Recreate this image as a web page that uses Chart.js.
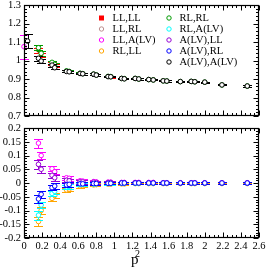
<!DOCTYPE html>
<html><head><meta charset="utf-8">
<script src="https://cdn.jsdelivr.net/npm/chart.js@4"></script>
<style>
html,body{margin:0;padding:0;background:#fff;}
#wrap{position:relative;width:266px;height:272px;overflow:hidden;}
canvas{position:absolute;left:0;top:0;}
</style></head><body>
<div id="wrap"><canvas id="cTop" width="266" height="272"></canvas><canvas id="cBot" width="266" height="272"></canvas></div>
<script>
const seriesNames = ['LL,LL','LL,RL','LL,A(LV)','RL,LL','RL,RL','RL,A(LV)','A(LV),LL','A(LV),RL','A(LV),A(LV)'];
const seriesColors = ['#ff0000','#bc8f8f','#ff00ff','#ffa500','#009a00','#00ffff','#9400d3','#0000ff','#000000'];

// momentum values p^2
const p2 = [0.16,0.19,0.31,0.34,0.47,0.50,0.62,0.65,0.77,0.80,0.93,0.96,1.08,1.11,1.23,1.27,1.38,1.43,1.54,1.58,1.73,1.85,1.89,2.00,2.19,2.47];
const p2AA = [0.04,0.16,0.19,0.31,0.34,0.47,0.50,0.62,0.65,0.77,0.80,0.93,0.96,1.08,1.11,1.23,1.27,1.38,1.43,1.54,1.58,1.73,1.85,1.89,2.00,2.19,2.47];
const p2Zero = [0.0];

// upper panel
const topLLLL = [1.055,1.030,0.985,0.972,0.942,0.940,0.930,0.928,0.926,0.921,0.913,0.912,0.903,0.901,0.903,0.900,0.897,0.895,0.890,0.889,0.886,0.887,0.885,0.883,0.868,0.862];
const topLLLLerr = [0.014,0.012,0.009,0.009,0.006,0.006,0.005,0.005,0.004,0.004,0.004,0.004,0.003,0.003,0.003,0.003,0.003,0.003,0.003,0.003,0.003,0.003,0.003,0.003,0.003,0.003];
const topRLRL = [1.069,1.039,0.990,0.979,0.944,0.941,0.931,0.929,0.926,0.922,0.914,0.913,0.903,0.902,0.903,0.900,0.897,0.895,0.890,0.889,0.886,0.887,0.885,0.883,0.868,0.862];
const topRLRLerr = [0.014,0.012,0.009,0.009,0.006,0.006,0.005,0.005,0.004,0.004,0.004,0.004,0.003,0.003,0.003,0.003,0.003,0.003,0.003,0.003,0.003,0.003,0.003,0.003,0.003,0.003];
const topAA = [1.105,1.012,0.997,0.975,0.961,0.941,0.939,0.930,0.928,0.926,0.921,0.913,0.912,0.903,0.901,0.903,0.900,0.897,0.895,0.890,0.889,0.886,0.887,0.885,0.883,0.868,0.862];
const topAAerr = [0.040,0.012,0.010,0.008,0.008,0.005,0.005,0.004,0.004,0.004,0.004,0.003,0.003,0.003,0.003,0.003,0.003,0.003,0.003,0.003,0.003,0.003,0.003,0.003,0.003,0.003,0.003];
const topLLA = [1.075];
const topLLAerr = [0.065];

// lower panel
const botLLA  = [0.145,0.100,0.052,0.041,0.019,0.017,0.008,0.007,0.005,0.004,0.003,0.003,0.002,0.002,0.002,0.002,0.002,0.002,0.001,0.001,0.001,0.001,0.001,0.001,0.001,0.001];
const botALL  = [0.068,0.050,0.028,0.019,0.010,0.008,0.004,0.004,0.003,0.002,0.002,0.002,0.001,0.001,0.001,0.001,0.001,0.001,0.000,0.000,0.000,0.000,0.000,0.000,0.000,0.000];
const botARL  = [-0.058,-0.041,-0.017,-0.011,-0.007,-0.005,-0.003,-0.003,-0.002,-0.002,-0.001,-0.001,0.000,0.000,0.000,0.000,0.000,0.000,0.000,0.000,0.000,0.000,0.000,0.000,0.000,0.000];
const botRLA  = [-0.117,-0.080,-0.038,-0.030,-0.014,-0.012,-0.006,-0.005,-0.004,-0.003,-0.002,-0.002,-0.001,-0.001,-0.001,-0.001,-0.001,-0.001,-0.001,-0.001,-0.001,-0.001,-0.001,-0.001,-0.001,-0.001];
const botRLLL = [-0.140,-0.100,-0.056,-0.045,-0.025,-0.022,-0.011,-0.010,-0.007,-0.006,-0.004,-0.004,-0.003,-0.003,-0.002,-0.002,-0.002,-0.002,-0.002,-0.002,-0.002,-0.002,-0.002,-0.002,-0.002,-0.002];
const botErr  = [0.016,0.012,0.010,0.010,0.008,0.008,0.006,0.006,0.005,0.005,0.004,0.004,0.003,0.003,0.003,0.003,0.003,0.003,0.003,0.003,0.003,0.003,0.003,0.003,0.003,0.003];

// tick labels
const xTicks = [0,0.2,0.4,0.6,0.8,1,1.2,1.4,1.6,1.8,2,2.2,2.4,2.6];
const xTickLabels = ['0','0.2','0.4','0.6','0.8','1','1.2','1.4','1.6','1.8','2','2.2','2.4','2.6'];
const topYTicks = [0.7,0.8,0.9,1.0,1.1,1.2,1.3];
const topYTickLabels = ['0.7','0.8','0.9','1','1.1','1.2','1.3'];
const botYTicks = [-0.2,-0.15,-0.1,-0.05,0,0.05,0.1,0.15,0.2];
const botYTickLabels = ['-0.2','-0.15','-0.1','-0.05','0','0.05','0.1','0.15','0.2'];
const xTitle = 'p';
const xTitleSup = '2';

const FONT = '"Liberation Serif", "Times New Roman", serif';

function pts(xs, ys){ return ys.map((y,i)=>({x:xs[i], y:y})); }

function makeDatasets(panel){
  const ds = [];
  for (let i=0;i<seriesNames.length;i++){
    let data=[], err=[];
    const n = seriesNames[i];
    if (panel==='top'){
      if (n==='LL,LL'){ data=pts(p2,topLLLL); err=topLLLLerr; }
      if (n==='RL,RL'){ data=pts(p2,topRLRL); err=topRLRLerr; }
      if (n==='A(LV),A(LV)'){ data=pts(p2AA,topAA); err=topAAerr; }
      if (n==='LL,A(LV)'){ data=pts(p2Zero,topLLA); err=topLLAerr; }
    } else {
      if (n==='LL,A(LV)'){ data=pts(p2,botLLA); err=botErr; }
      if (n==='A(LV),LL'){ data=pts(p2,botALL); err=botErr; }
      if (n==='A(LV),RL'){ data=pts(p2,botARL); err=botErr; }
      if (n==='RL,A(LV)'){ data=pts(p2,botRLA); err=botErr; }
      if (n==='RL,LL'){ data=pts(p2,botRLLL); err=botErr; }
    }
    const c = seriesColors[i];
    ds.push({
      label:n, data:data, errors:err, order:seriesNames.length-i,
      showLine:false, clip:false,
      borderColor:c, backgroundColor: i===0? c : '#ffffff',
      pointStyle: i===0? 'rect':'circle',
      pointRadius: i===0? 2.1 : 2.3, pointBorderWidth:1,
      pointBackgroundColor: i===0? c : '#ffffff', pointBorderColor:c
    });
  }
  return ds;
}

const errorBars = {
  id:'errorBars',
  beforeDatasetDraw(chart, args){
    const ds = chart.data.datasets[args.index];
    if (!ds.errors || !ds.data.length) return;
    const xs = chart.scales.x, ys = chart.scales.y, ctx = chart.ctx;
    ctx.save();
    ctx.strokeStyle = ds.borderColor; ctx.lineWidth = 1;
    ds.data.forEach((p,i)=>{
      const e = ds.errors[i]||0;
      const px = Math.round(xs.getPixelForValue(p.x))+0.5;
      const y1 = Math.round(ys.getPixelForValue(p.y+e))+0.5;
      const y2 = Math.round(ys.getPixelForValue(p.y-e))+0.5;
      ctx.beginPath();
      ctx.moveTo(px,y1); ctx.lineTo(px,y2);
      ctx.moveTo(px-4.5,y1); ctx.lineTo(px+4.5,y1);
      ctx.moveTo(px-4.5,y2); ctx.lineTo(px+4.5,y2);
      ctx.stroke();
    });
    ctx.restore();
  }
};

function frameTicks(yMinorStep, yMajor){
  return {
    id:'frameTicks',
    afterDatasetsDraw(chart){
      const ctx = chart.ctx, a = chart.chartArea, xs = chart.scales.x, ys = chart.scales.y;
      ctx.save();
      ctx.strokeStyle='#000'; ctx.lineWidth=1;
      const L=Math.round(a.left)+0.5, R=Math.round(a.right)-0.5, T=Math.round(a.top)+0.5, B=Math.round(a.bottom)-0.5;
      ctx.beginPath();
      for (let k=0;k<=52;k++){
        const v = k*0.05; const major = (k%4===0);
        const len = major?5:2.5;
        const px = Math.round(xs.getPixelForValue(v))+0.5;
        ctx.moveTo(px,B); ctx.lineTo(px,B-len);
        ctx.moveTo(px,T); ctx.lineTo(px,T+len);
      }
      const nMin = Math.round((ys.max-ys.min)/yMinorStep);
      const per = Math.round(yMajor/yMinorStep);
      for (let k=0;k<=nMin;k++){
        const v = ys.min + k*yMinorStep; const major = (k%per===0);
        const len = major?5:2.5;
        const py = Math.round(ys.getPixelForValue(v))+0.5;
        ctx.moveTo(L,py); ctx.lineTo(L+len,py);
        ctx.moveTo(R,py); ctx.lineTo(R-len,py);
      }
      ctx.stroke();
      ctx.lineWidth=1.2;
      ctx.strokeRect(L,T,R-L,B-T);
      ctx.restore();
    }
  };
}

const legendPlugin = {
  id:'legendBox',
  afterDraw(chart){
    const ctx = chart.ctx;
    ctx.save();
    ctx.font = '10.5px ' + FONT;
    ctx.textBaseline='middle'; ctx.textAlign='left';
    chart.data.datasets.forEach((ds,i)=>{
      const col = i<4?0:1, row = i<4?i:i-4;
      const mx = col? 169 : 101.5;
      const tx = col? 179.5 : 112.5;
      const y = 18 + row*11;
      if (i===0){
        ctx.fillStyle = ds.borderColor; ctx.fillRect(mx-2.5,y-2.5,5,5);
      } else {
        ctx.strokeStyle = ds.borderColor; ctx.lineWidth=1;
        ctx.beginPath(); ctx.arc(mx,y,2.2,0,Math.PI*2); ctx.stroke();
      }
      ctx.fillStyle='#000';
      ctx.fillText(ds.label, tx, y+0.5);
    });
    ctx.restore();
  }
};

const titlePlugin = {
  id:'xTitle',
  afterDraw(chart){
    const ctx = chart.ctx;
    ctx.save(); ctx.fillStyle='#000'; ctx.textAlign='left'; ctx.textBaseline='alphabetic';
    ctx.font = '15px ' + FONT; ctx.fillText(xTitle, 131, 264);
    ctx.font = '10px ' + FONT; ctx.fillText(xTitleSup, 135, 257);
    ctx.restore();
  }
};

function yScale(min,max,ticksArr,labelsArr){
  return {
    type:'linear', min:min, max:max,
    afterBuildTicks(s){ s.ticks = ticksArr.map(v=>({value:v})); },
    ticks:{ color:'#000', font:{family:FONT, size:10.5}, padding:3, autoSkip:false,
      callback:(v)=>{ const i = ticksArr.findIndex(t=>Math.abs(t-v)<1e-9); return i>=0?labelsArr[i]:''; } },
    grid:{display:false, drawTicks:false}, border:{display:false},
    afterFit(s){ s.width=24; s.paddingTop=0; s.paddingBottom=0; }
  };
}

function xScale(showLabels, h){
  return {
    type:'linear', min:0, max:2.6,
    afterBuildTicks(s){ s.ticks = xTicks.map(v=>({value:v})); },
    ticks:{ display:showLabels, color:'#000', font:{family:FONT, size:10.5}, padding:2, autoSkip:false, maxRotation:0,
      callback:(v)=>{ const i = xTicks.findIndex(t=>Math.abs(t-v)<1e-9); return i>=0?xTickLabels[i]:''; } },
    grid:{display:false, drawTicks:false}, border:{display:false},
    afterFit(s){ s.height=h; s.paddingLeft=0; s.paddingRight=0; }
  };
}

const common = { responsive:false, animation:false, devicePixelRatio:1,
  plugins:{legend:{display:false}, tooltip:{enabled:false}} };

new Chart(document.getElementById('cTop'), {
  type:'scatter',
  data:{datasets:makeDatasets('top')},
  options:Object.assign({}, common, {
    layout:{padding:{left:0,right:7,top:5,bottom:0}},
    scales:{ x:xScale(false, 156), y:yScale(0.7,1.3,topYTicks,topYTickLabels) }
  }),
  plugins:[errorBars, frameTicks(0.02,0.1), legendPlugin]
});

new Chart(document.getElementById('cBot'), {
  type:'scatter',
  data:{datasets:makeDatasets('bot')},
  options:Object.assign({}, common, {
    layout:{padding:{left:0,right:7,top:128,bottom:0}},
    scales:{ x:xScale(true, 34), y:yScale(-0.2,0.2,botYTicks,botYTickLabels) }
  }),
  plugins:[errorBars, frameTicks(0.01,0.05), titlePlugin]
});
</script>
</body></html>
